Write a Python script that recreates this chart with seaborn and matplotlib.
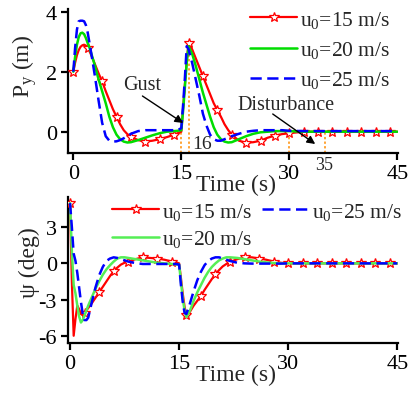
import numpy as np
import pandas as pd
import matplotlib
matplotlib.use("Agg")
import matplotlib.pyplot as plt
import seaborn as sns

# ---------------- data ----------------
time_s = [0, 0.25, 0.5, 0.75, 1, 1.25, 1.5, 1.75, 2, 2.25,
          2.5, 3, 3.5, 4, 4.5, 5, 5.5, 6, 6.5, 7,
          7.5, 8, 9, 10, 11, 12, 13, 14, 14.5, 15,
          15.25, 15.5, 15.75, 16, 16.5, 17, 17.5, 18, 18.5, 19,
          19.5, 20, 20.5, 21, 21.5, 22, 23, 24, 25, 26,
          27, 28, 29, 30, 32, 34, 36, 38, 40, 42,
          44, 45]

py_15 = [2.0, 2.3, 2.55, 2.72, 2.83, 2.88, 2.9, 2.87, 2.8, 2.68,
         2.55, 2.25, 1.95, 1.68, 1.35, 1.05, 0.75, 0.5, 0.25, 0.05,
         -0.08, -0.17, -0.28, -0.33, -0.3, -0.25, -0.18, -0.1, -0.05, 0.0,
         0.8, 1.6, 2.35, 2.95, 2.75, 2.45, 2.15, 1.85, 1.55, 1.25,
         0.95, 0.72, 0.5, 0.25, 0.06, -0.1, -0.3, -0.37, -0.35, -0.3,
         -0.2, -0.13, -0.08, -0.05, 0.0, 0.0, 0.0, 0.0, 0.0, 0.0,
         0.0, 0.0]
py_20 = [2.0, 2.5, 2.9, 3.15, 3.28, 3.3, 3.25, 3.12, 2.95, 2.8,
         2.6, 2.2, 1.75, 1.35, 0.95, 0.5, 0.15, -0.1, -0.25, -0.33,
         -0.36, -0.35, -0.28, -0.2, -0.12, -0.05, 0.0, 0.02, 0.03, 0.05,
         0.7, 1.5, 2.3, 2.85, 2.6, 2.2, 1.75, 1.3, 0.9, 0.5,
         0.15, -0.1, -0.25, -0.33, -0.36, -0.35, -0.25, -0.15, -0.07, -0.02,
         0.0, 0.02, 0.02, 0.02, 0.0, 0.0, 0.0, 0.0, 0.0, 0.0,
         0.0, 0.0]
py_25 = [2.0, 2.8, 3.4, 3.68, 3.7, 3.7, 3.68, 3.55, 3.3, 2.95,
         2.6, 1.85, 1.05, 0.3, -0.15, -0.3, -0.33, -0.32, -0.28, -0.22,
         -0.15, -0.07, 0.02, 0.05, 0.05, 0.05, 0.05, 0.05, 0.05, 0.12,
         0.9, 1.8, 2.85, 2.75, 2.3, 1.75, 1.2, 0.6, 0.2, -0.1,
         -0.25, -0.3, -0.3, -0.25, -0.2, -0.15, -0.07, 0.0, 0.03, 0.05,
         0.05, 0.05, 0.05, 0.03, 0.02, 0.02, 0.02, 0.02, 0.02, 0.02,
         0.02, 0.02]

psi_15 = [5.0, -1.5, -6.0, -4.6, -3.5, -3.8, -4.2, -4.3, -4.1, -3.9,
          -3.7, -3.3, -2.85, -2.4, -1.95, -1.5, -1.05, -0.65, -0.35, -0.1,
          0.05, 0.15, 0.35, 0.5, 0.45, 0.4, 0.3, 0.15, 0.1, 0.0,
          -1.2, -2.5, -3.6, -4.3, -4.0, -3.5, -3.1, -2.7, -2.2, -1.75,
          -1.3, -0.9, -0.55, -0.25, -0.05, 0.1, 0.35, 0.5, 0.5, 0.4,
          0.3, 0.15, 0.05, 0.0, 0.0, 0.0, 0.0, 0.0, 0.0, 0.0,
          0.0, 0.0]
psi_20 = [5.0, 1.0, -1.8, -2.5, -3.5, -4.4, -4.9, -4.7, -4.3, -3.9,
          -3.5, -2.8, -2.1, -1.5, -0.95, -0.5, -0.15, 0.15, 0.4, 0.5,
          0.5, 0.45, 0.35, 0.25, 0.15, 0.05, 0.0, -0.05, -0.08, -0.1,
          -1.5, -2.9, -3.9, -4.45, -3.9, -3.1, -2.4, -1.8, -1.2, -0.7,
          -0.3, 0.0, 0.25, 0.4, 0.5, 0.5, 0.45, 0.35, 0.25, 0.15,
          0.08, 0.03, 0.0, 0.0, 0.0, 0.0, 0.0, 0.0, 0.0, 0.0,
          0.0, 0.0]
psi_25 = [5.0, 3.0, 0.8, 0.2, -0.8, -2.0, -3.2, -4.2, -4.7, -4.7,
          -4.5, -3.2, -2.0, -1.0, -0.3, 0.2, 0.4, 0.5, 0.45, 0.35,
          0.25, 0.15, 0.02, -0.05, -0.05, -0.05, -0.05, -0.05, -0.05, -0.1,
          -1.8, -3.2, -4.1, -4.2, -3.3, -2.3, -1.4, -0.7, -0.15, 0.2,
          0.4, 0.5, 0.5, 0.4, 0.3, 0.2, 0.05, 0.0, -0.02, -0.02,
          -0.02, -0.02, -0.02, 0.0, 0.0, 0.0, 0.0, 0.0, 0.0, 0.0,
          0.0, 0.0]

labels = [r"$\mathregular{u_0}$=15 m/s", r"$\mathregular{u_0}$=20 m/s",
          r"$\mathregular{u_0}$=25 m/s"]
event_times = [15, 16, 30, 35]
event_tops = [0.15, 2.95, 0.0, 0.0]
x_ticks = [0, 15, 30, 45]
py_ticks = [0, 2, 4]
psi_ticks = [-6, -3, 0, 3]

# ---------------- style ----------------
sns.set_style("ticks")
plt.rcParams["font.family"] = ["Liberation Serif", "DejaVu Serif"]
plt.rcParams["mathtext.fontset"] = "custom"
plt.rcParams["mathtext.rm"] = "Liberation Serif"
plt.rcParams["mathtext.it"] = "Liberation Serif:italic"
plt.rcParams["axes.unicode_minus"] = False

W, H = 413, 402
fig = plt.figure(figsize=(W / 100, H / 100), dpi=100)
ax1 = fig.add_axes([68 / W, 1 - 154 / H, 330 / W, 144 / H])
ax2 = fig.add_axes([68 / W, 1 - 344 / H, 330 / W, 146 / H])

df = pd.DataFrame({"t": time_s, "py15": py_15, "py20": py_20, "py25": py_25,
                   "psi15": psi_15, "psi20": psi_20, "psi25": psi_25})
mark_idx = [i for i, t in enumerate(time_s) if t % 2 == 0 and t <= 44]

red = "#ff0000"
green_top = "#00dd00"
green_bot = "#55ee55"
blue = "#0000ff"


def draw(ax, cols, green):
    sns.lineplot(data=df, x="t", y=cols[0], ax=ax, color=red, lw=1.6,
                 marker="*", markersize=7, markerfacecolor="white",
                 markeredgecolor=red, markeredgewidth=0.9,
                 markevery=mark_idx, label=labels[0], sort=False,
                 errorbar=None, zorder=3)
    sns.lineplot(data=df, x="t", y=cols[1], ax=ax, color=green, lw=1.8,
                 label=labels[1], sort=False, errorbar=None, zorder=3)
    sns.lineplot(data=df, x="t", y=cols[2], ax=ax, color=blue, lw=1.8,
                 linestyle=(0, (4.5, 2.2)), label=labels[2], sort=False,
                 errorbar=None, zorder=3)


draw(ax1, ["py15", "py20", "py25"], green_top)
draw(ax2, ["psi15", "psi20", "psi25"], green_bot)

ax1.set_xlim(-0.74, 45.1)
ax1.set_ylim(-0.71, 4.09)
ax2.set_xlim(-0.28, 45.1)
ax2.set_ylim(-6.6, 5.5)

for ax, yt in [(ax1, py_ticks), (ax2, psi_ticks)]:
    sns.despine(ax=ax)
    for s in ["left", "bottom"]:
        ax.spines[s].set_linewidth(1.6)
        ax.spines[s].set_color("black")
    ax.set_xticks(x_ticks)
    ax.set_yticks(yt)
    ax.tick_params(direction="out", length=5, width=1.6, labelsize=16,
                   colors="black", pad=3)
    ax.set_xlabel("Time (s)", fontsize=17)
    ax.grid(False)

ax1.xaxis.set_label_coords(0.509, -0.146)
ax2.xaxis.set_label_coords(0.509, -0.144)
ax1.set_ylabel(r"$\mathregular{P_y}$ (m)", fontsize=17)
ax2.set_ylabel("ψ (deg)", fontsize=17)
ax1.yaxis.label.set_va("center")
ax2.yaxis.label.set_va("center")
ax1.yaxis.set_label_coords(-0.133, 0.611)
ax2.yaxis.set_label_coords(-0.118, 0.56)

# orange event markers
ax1.vlines(event_times, -0.71, event_tops, colors="#ff8c00", lw=1.1,
           linestyles=(0, (1.5, 1.5)), zorder=2)

# annotations
ax1.text(9.5, 1.57, "Gust", fontsize=14.5, ha="center", va="center")
ax1.annotate("", xy=(15.26, 0.29), xytext=(9.6, 1.19),
             arrowprops=dict(arrowstyle="-|>", color="black", lw=1,
                             mutation_scale=12, shrinkA=0, shrinkB=0))
ax1.text(29.6, 0.92, "Disturbance", fontsize=14.5, ha="center", va="center")
ax1.annotate("", xy=(33.6, -0.41), xytext=(27.7, 0.59),
             arrowprops=dict(arrowstyle="-|>", color="black", lw=1,
                             mutation_scale=12, shrinkA=0, shrinkB=0))
ax1.text(16.5, -0.41, "16", fontsize=14, ha="left", va="center")
ax1.text(34.9, -1.08, "35", fontsize=13, ha="center", va="center",
         clip_on=False)

# legends
h1, l1 = ax1.get_legend_handles_labels()
ax1.legend(h1, l1, loc="upper left", bbox_to_anchor=(250 / W, 1 - 10 / H),
           bbox_transform=fig.transFigure, frameon=False, fontsize=15.5,
           handlelength=2.2, handletextpad=0.12, labelspacing=0.42,
           borderpad=0, borderaxespad=0, numpoints=1)
h2, l2 = ax2.get_legend_handles_labels()
ax2.legend(h2, l2, loc="upper left", bbox_to_anchor=(112 / W, 1 - 202 / H),
           bbox_transform=fig.transFigure, frameon=False, fontsize=15.5,
           ncol=2, handlelength=2.2, handletextpad=0.12, labelspacing=0.3,
           columnspacing=0.45, borderpad=0, borderaxespad=0, numpoints=1)

fig.savefig("out.png", dpi=100)
